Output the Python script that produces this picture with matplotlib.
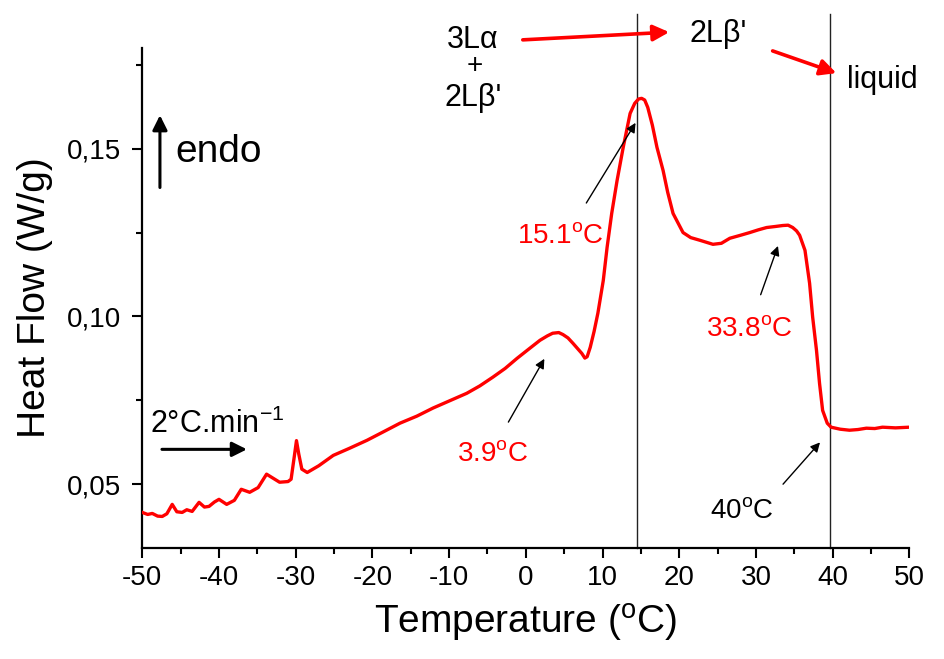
import numpy as np
import matplotlib.pyplot as plt
from matplotlib.ticker import MultipleLocator, FuncFormatter

plt.rcParams['font.family'] = ['Liberation Sans', 'DejaVu Sans']
plt.rcParams['mathtext.fontset'] = 'custom'
plt.rcParams['mathtext.rm'] = 'Liberation Sans'
plt.rcParams['mathtext.it'] = 'Liberation Sans:italic'
plt.rcParams['axes.unicode_minus'] = False

# DSC heating curve
temp = [-50.0, -49.3, -48.7, -48.0, -47.4, -46.8, -46.1, -45.5, -44.8, -44.2,
        -43.5, -42.6, -41.9, -41.3, -40.6, -40.0, -39.0, -38.0, -37.1, -36.0,
        -34.9, -33.8, -32.1, -31.0, -30.6, -30.2, -29.9, -29.6, -29.2, -28.5,
        -27.0, -25.1, -23.0, -20.7, -18.5, -16.4, -14.2, -12.1, -9.9, -7.7,
        -6.0, -4.3, -2.7, -1.15, 0.4, 1.85, 2.8, 3.5, 4.3, 4.85, 5.5, 6.15,
        6.8, 7.3, 7.7, 8.0, 8.4, 8.9, 9.4, 10.1, 10.6, 11.2, 11.9, 12.7, 13.6,
        14.2, 14.7, 15.1, 15.5, 15.9, 16.5, 17.1, 17.9, 18.5, 19.2, 20.5, 21.5,
        22.7, 24.4, 25.5, 26.6, 28.0, 29.2, 30.3, 31.4, 32.5, 33.5, 34.2, 34.8,
        35.3, 35.7, 36.4, 37.0, 37.4, 37.9, 38.3, 38.7, 39.3, 39.8, 41.0, 42.2,
        43.3, 44.4, 45.5, 46.5, 48.2, 50.0]
heat_flow = [0.0416, 0.0410, 0.0413, 0.0405, 0.0404, 0.0412, 0.0440, 0.0418, 0.0416, 0.0424,
             0.0419, 0.0446, 0.0432, 0.0434, 0.0447, 0.0455, 0.0440, 0.0452, 0.0485, 0.0476,
             0.0490, 0.0530, 0.0506, 0.0508, 0.0515, 0.0580, 0.0630, 0.0590, 0.0545, 0.0535,
             0.0555, 0.0586, 0.0607, 0.0631, 0.0657, 0.0682, 0.0703, 0.0727, 0.0749, 0.0771,
             0.0793, 0.0819, 0.0845, 0.0875, 0.0903, 0.0929, 0.0942, 0.0950, 0.0952, 0.0946,
             0.0936, 0.0920, 0.0903, 0.0890, 0.0876, 0.0880, 0.0908, 0.0955, 0.1010, 0.1107,
             0.1206, 0.1307, 0.1405, 0.1504, 0.1605, 0.1635, 0.1648, 0.1650, 0.1645, 0.1623,
             0.1570, 0.1504, 0.1435, 0.1370, 0.1307, 0.1250, 0.1235, 0.1227, 0.1215, 0.1218,
             0.1233, 0.1242, 0.1250, 0.1258, 0.1265, 0.1268, 0.1271, 0.1272, 0.1265, 0.1255,
             0.1242, 0.1197, 0.1099, 0.0998, 0.0899, 0.0800, 0.0720, 0.0682, 0.0670, 0.0664,
             0.0661, 0.0663, 0.0667, 0.0666, 0.0670, 0.0668, 0.0670]

xticks = np.arange(-50, 51, 10)
yticks = [0.05, 0.10, 0.15]
transitions = [14.5, 39.7]


def figpx(x, y):
    # image pixel (from top-left) -> figure fraction
    return x / 944, 1 - y / 659


fig = plt.figure(figsize=(9.44, 6.59), dpi=100)
ax = fig.add_axes([142.3 / 944, 1 - 548 / 659, 767 / 944, 500 / 659])

ax.plot(temp, heat_flow, color='#ff0000', lw=2.4, zorder=3)
for t in transitions:
    ax.axvline(t, ymin=0, ymax=1.068, color='#222222', lw=1.0, clip_on=False, zorder=2)

ax.set_xlim(-50, 50)
ax.set_ylim(0.031, 0.18)
ax.set_xticks(xticks)
ax.set_yticks(yticks)
ax.xaxis.set_minor_locator(MultipleLocator(5))
ax.yaxis.set_minor_locator(MultipleLocator(0.025))
ax.yaxis.set_major_formatter(FuncFormatter(lambda v, p: f"{v:.2f}".replace('.', ',')))
ax.tick_params(which='major', direction='out', length=7, width=1.5, labelsize=20)
ax.tick_params(axis='x', which='major', pad=5)
ax.tick_params(axis='y', which='major', pad=8)
ax.tick_params(which='minor', direction='out', length=4.5, width=1.5)
for s in ['top', 'right']:
    ax.spines[s].set_visible(False)
for s in ['left', 'bottom']:
    ax.spines[s].set_linewidth(1.6)

ax.set_xlabel(r'Temperature ($^{\mathrm{o}}$C)', fontsize=28, labelpad=8)
ax.set_ylabel('Heat Flow (W/g)', fontsize=28, labelpad=10)

# endo arrow and heating rate
ax.annotate('', xy=(-47.7, 0.1608), xytext=(-47.7, 0.1376),
            arrowprops=dict(arrowstyle='-|>', color='black', lw=2.2, mutation_scale=22))
ax.text(-45.7, 0.1459, 'endo', fontsize=28, va='baseline', ha='left')
ax.text(-49.0, 0.0652, r'2°C.min$^{\mathrm{-1}}$', fontsize=22, va='baseline', ha='left')
ax.annotate('', xy=(-36.0, 0.0604), xytext=(-47.8, 0.0604),
            arrowprops=dict(arrowstyle='-|>', color='black', lw=2.2, mutation_scale=22))

# peak labels
arrow_k = dict(arrowstyle='-|>', color='black', lw=1.0, mutation_scale=14)
ax.text(-4.3, 0.0569, r'3.9$^{\mathrm{o}}$C', color='#ff0000', fontsize=20, ha='center', va='baseline')
ax.annotate('', xy=(2.6, 0.0881), xytext=(-2.45, 0.0678), arrowprops=arrow_k)
ax.text(4.45, 0.1218, r'15.1$^{\mathrm{o}}$C', color='#ff0000', fontsize=20, ha='center', va='baseline')
ax.annotate('', xy=(14.5, 0.1584), xytext=(7.7, 0.1331), arrowprops=arrow_k)
ax.text(29.2, 0.0941, r'33.8$^{\mathrm{o}}$C', color='#ff0000', fontsize=20, ha='center', va='baseline')
ax.annotate('', xy=(33.0, 0.1218), xytext=(30.5, 0.1057), arrowprops=arrow_k)
ax.text(28.2, 0.0399, r'40$^{\mathrm{o}}$C', color='black', fontsize=20, ha='center', va='baseline')
ax.annotate('', xy=(38.6, 0.0631), xytext=(33.3, 0.0494), arrowprops=arrow_k)

# phase sequence above the plot
fig.text(*figpx(473, 48), '3Lα', fontsize=22, ha='center', va='baseline')
fig.text(*figpx(475, 73), '+', fontsize=20, ha='center', va='baseline')
fig.text(*figpx(473, 106), "2Lβ'", fontsize=22, ha='center', va='baseline')
fig.text(*figpx(718, 42), "2Lβ'", fontsize=22, ha='center', va='baseline')
fig.text(*figpx(882, 88), 'liquid', fontsize=22, ha='center', va='baseline')
arrow_r = dict(arrowstyle='-|>', color='#ff0000', lw=2.6, mutation_scale=24)
fig.add_artist(plt.matplotlib.patches.FancyArrowPatch(figpx(520, 40), figpx(672, 32),
               transform=fig.transFigure, **arrow_r))
fig.add_artist(plt.matplotlib.patches.FancyArrowPatch(figpx(770, 50), figpx(839, 74),
               transform=fig.transFigure, **arrow_r))

fig.savefig('out.png', dpi=100)
